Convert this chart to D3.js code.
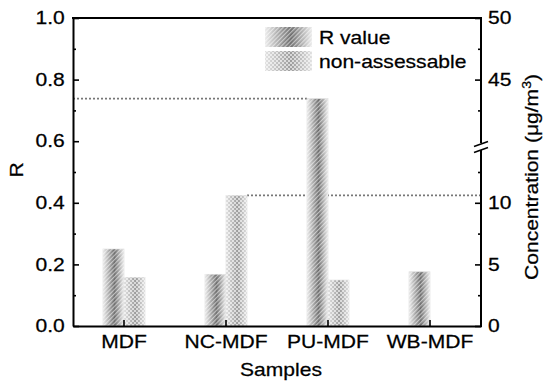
<!DOCTYPE html>
<html>
<head>
<meta charset="utf-8">
<script src="https://cdn.jsdelivr.net/npm/d3@7/dist/d3.min.js"></script>
<style>
body { margin: 0; background: #fff; }
svg text { font-family: "Liberation Sans", Arial, sans-serif; fill: #000; stroke: #000; stroke-width: 0.25px; }
</style>
</head>
<body>
<svg id="canvas" width="548" height="382"></svg>
<script>
// data
const samples = ["MDF", "NC-MDF", "PU-MDF", "WB-MDF"];
const rValue = [0.25, 0.168, 0.738, 0.176];
const nonAssess = [3.95, 10.6, 3.73, null]; // µg/m3, right axis
const leftTicks = [0, 0.2, 0.4, 0.6, 0.8, 1.0];
const leftMinor = [0.1, 0.3, 0.5, 0.7, 0.9];
const rightTicks = [0, 5, 10, 45, 50];
const rightMinor = [2.5, 7.5, 12.5, 42.5, 47.5];

const svg = d3.select("#canvas");
const L = 73, R = 481, T = 18, B = 326;
const sx = 1.17; // glyphs in the picture are wider than Arial

let x = d3.scaleBand().domain(samples).range([L, R]);
let y = d3.scaleLinear().domain([0, 1]).range([B, T]);
// broken right axis: 0-15 on the lower part, 40-50 on the upper part
let y2 = d3.scaleLinear().domain([0, 15, 40, 50]).range([B, y(0.6), y(0.6), T]);

const defs = svg.append("defs");

function cyl(id, edge, mid) {
    let g = defs.append("linearGradient").attr("id", id)
        .attr("x1", 0).attr("x2", 1).attr("y1", 0).attr("y2", 0);
    g.append("stop").attr("offset", 0).attr("stop-color", edge);
    g.append("stop").attr("offset", 0.55).attr("stop-color", mid);
    g.append("stop").attr("offset", 1).attr("stop-color", edge);
}
cyl("gradR", "#ececec", "#6a6a6a");
cyl("gradN", "#e2e2e2", "#9c9c9c");

let hatch = defs.append("pattern").attr("id", "hatch")
    .attr("patternUnits", "userSpaceOnUse").attr("width", 3).attr("height", 3)
    .attr("patternTransform", "rotate(45)");
hatch.append("rect").attr("width", 1.2).attr("height", 3).attr("fill", "#fff").attr("opacity", 0.55);

let check = defs.append("pattern").attr("id", "check")
    .attr("patternUnits", "userSpaceOnUse").attr("width", 4).attr("height", 4);
check.append("rect").attr("width", 2).attr("height", 2).attr("fill", "#fff").attr("opacity", 0.6);
check.append("rect").attr("x", 2).attr("y", 2).attr("width", 2).attr("height", 2).attr("fill", "#fff").attr("opacity", 0.6);

const bw = 21;

// dotted guide lines
let pu = samples.indexOf("PU-MDF");
svg.append("line")
    .attr("x1", L).attr("x2", x("PU-MDF") + x.bandwidth() / 2 - bw)
    .attr("y1", y(rValue[pu])).attr("y2", y(rValue[pu]))
    .attr("stroke", "#777").attr("stroke-width", 1.8).attr("stroke-dasharray", "2,2");
let nc = samples.indexOf("NC-MDF");
svg.append("line")
    .attr("x1", x("NC-MDF") + x.bandwidth() / 2 + bw).attr("x2", R)
    .attr("y1", y2(nonAssess[nc])).attr("y2", y2(nonAssess[nc]))
    .attr("stroke", "#777").attr("stroke-width", 1.8).attr("stroke-dasharray", "2,2");

// bars
let bars = svg.append("g").attr("class", "bars");
function drawBar(bx, top, grad, pat) {
    bars.append("rect").attr("x", bx).attr("y", top).attr("width", bw).attr("height", B - top)
        .attr("fill", "url(#" + grad + ")").attr("stroke", "#ddd").attr("stroke-width", 0.6);
    bars.append("rect").attr("x", bx).attr("y", top).attr("width", bw).attr("height", B - top)
        .attr("fill", "url(#" + pat + ")");
}
samples.forEach((s, i) => {
    let c = x(s) + x.bandwidth() / 2;
    drawBar(c - bw, y(rValue[i]), "gradR", "hatch");
    if (nonAssess[i] != null) drawBar(c, y2(nonAssess[i]), "gradN", "check");
});

// axes
function styleText(g) {
    g.selectAll("text").attr("font-size", 18).attr("transform", "scale(" + sx + ",1)");
}
let xAxis = svg.append("g").attr("transform", "translate(0," + B + ")")
    .call(d3.axisBottom(x).tickSize(-6).tickPadding(9).tickSizeOuter(0));
styleText(xAxis);

let yAxis = svg.append("g").attr("transform", "translate(" + L + ",0)")
    .call(d3.axisLeft(y).tickValues(leftTicks).tickFormat(d3.format(".1f")).tickSize(-6).tickPadding(7).tickSizeOuter(0));
styleText(yAxis);
svg.append("g").attr("transform", "translate(" + L + ",0)")
    .call(d3.axisLeft(y).tickValues(leftMinor).tickFormat("").tickSize(-3).tickSizeOuter(0))
    .select(".domain").remove();

let y2Axis = svg.append("g").attr("transform", "translate(" + R + ",0)")
    .call(d3.axisRight(y2).tickValues(rightTicks).tickFormat(d3.format("d")).tickSize(-6).tickPadding(6).tickSizeOuter(0));
y2Axis.select(".domain").remove();
styleText(y2Axis);
svg.append("g").attr("transform", "translate(" + R + ",0)")
    .call(d3.axisRight(y2).tickValues(rightMinor).tickFormat("").tickSize(-3).tickSizeOuter(0))
    .select(".domain").remove();

svg.selectAll(".tick line").attr("stroke", "#000").attr("stroke-width", 1.6);
svg.selectAll(".domain").attr("stroke", "#000").attr("stroke-width", 2);

// top frame and broken right axis line
const brk = 147;
svg.append("path").attr("fill", "none").attr("stroke", "#000").attr("stroke-width", 2)
    .attr("d", "M" + (L - 1) + "," + T + "H" + R + "V" + (brk - 4) + "M" + R + "," + (brk + 3) + "V" + (B + 1));
[-3, 3].forEach(o => {
    svg.append("line").attr("x1", R - 7).attr("x2", R + 7)
        .attr("y1", brk + o + 2.5).attr("y2", brk + o - 2.5)
        .attr("stroke", "#000").attr("stroke-width", 1.5);
});

// axis titles
svg.append("text").attr("transform", "translate(23,170) rotate(-90) scale(" + sx + ",1)")
    .attr("text-anchor", "middle").attr("font-size", 18).text("R");
svg.append("text").attr("transform", "translate(281,376) scale(" + sx + ",1)")
    .attr("text-anchor", "middle").attr("font-size", 18).text("Samples");
let ct = svg.append("text").attr("transform", "translate(538,177) rotate(-90) scale(" + sx + ",1)")
    .attr("text-anchor", "middle").attr("font-size", 18);
ct.append("tspan").text("Concentration (μg/m");
ct.append("tspan").attr("font-size", 12).attr("dy", -7).text("3");
ct.append("tspan").attr("dy", 7).text(")");

// legend
const legendItems = [
    { label: "R value", grad: "gradR", pat: "hatch" },
    { label: "non-assessable", grad: "gradN", pat: "check" }
];
let lg = svg.append("g").attr("class", "legend");
legendItems.forEach((d, i) => {
    let ly = 27 + i * 24;
    lg.append("rect").attr("x", 265).attr("y", ly).attr("width", 47).attr("height", 20)
        .attr("fill", "url(#" + d.grad + ")");
    lg.append("rect").attr("x", 265).attr("y", ly).attr("width", 47).attr("height", 20)
        .attr("fill", "url(#" + d.pat + ")");
    lg.append("text").attr("transform", "translate(319," + (ly + 17) + ") scale(" + sx + ",1)")
        .attr("font-size", 18).text(d.label);
});
</script>
</body>
</html>
